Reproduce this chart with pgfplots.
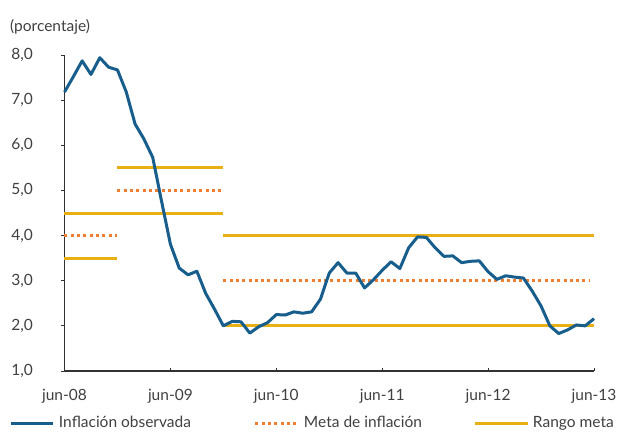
\documentclass[border=0pt]{standalone}
\usepackage{fontspec}
\setmainfont{Lato}
\usepackage{pgfplots}
\pgfplotsset{compat=1.18}
\definecolor{cblue}{RGB}{24,94,140}
\definecolor{corange}{RGB}{240,126,48}
\definecolor{cgold}{RGB}{232,176,20}
\definecolor{tgray}{RGB}{64,64,64}
\definecolor{agray}{RGB}{50,50,50}
\pgfplotsset{
  leg42/.style={legend image code/.code={\draw[##1] (0pt,0pt) -- (42pt,0pt);}},
  leg53/.style={legend image code/.code={\draw[##1] (0pt,0pt) -- (53pt,0pt);}},
}
\pgfplotstableread{
m v
0 7.18
1 7.52
2 7.87
3 7.57
4 7.94
5 7.73
6 7.67
7 7.18
8 6.47
9 6.14
10 5.73
11 4.76
12 3.81
13 3.28
14 3.13
15 3.21
16 2.72
17 2.37
18 2.00
19 2.10
20 2.09
21 1.84
22 1.98
23 2.07
24 2.25
25 2.24
26 2.31
27 2.28
28 2.31
29 2.59
30 3.17
31 3.40
32 3.17
33 3.17
34 2.84
35 3.02
36 3.23
37 3.42
38 3.27
39 3.73
40 3.97
41 3.96
42 3.73
43 3.54
44 3.55
45 3.40
46 3.43
47 3.44
48 3.20
49 3.03
50 3.11
51 3.08
52 3.06
53 2.77
54 2.44
55 2.00
56 1.83
57 1.91
58 2.02
59 2.00
60 2.16
}\infl
\begin{document}
\fontsize{15.5}{18}\selectfont
\begin{tikzpicture}[text=tgray]
\useasboundingbox (-64.5pt,-60pt) rectangle (552.5pt,371pt);
\begin{axis}[
  at={(0pt,0pt)}, anchor=south west,
  scale only axis, width=529.5pt, height=316pt,
  xmin=0, xmax=60, ymin=1, ymax=8,
  clip=false,
  axis lines=left,
  axis line style={agray, line width=1.1pt, -},
  tick style={agray, line width=1pt},
  tick align=outside,
  major tick length=3.5pt,
  xtick style={yshift=3.5pt},
  xtick={0,12,24,36,48,60},
  xticklabels={jun-08,jun-09,jun-10,jun-11,jun-12,jun-13},
  ytick={1,2,3,4,5,6,7,8},
  minor tick num=0,
  /pgf/number format/.cd, use comma, fixed, fixed zerofill, precision=1, assume math mode=true,
  /pgfplots/.cd,
  yticklabel style={inner sep=0pt, anchor=east, xshift=-28pt},
  xticklabel style={inner sep=0pt, anchor=north, yshift=-14pt},
  legend columns=3,
  legend cell align=left,
  legend style={at={(-0.10293,-0.16456)}, anchor=west, draw=none, fill=none,
    inner sep=0pt, outer sep=0pt, column sep=0pt, nodes={inner sep=0pt}},
]
% ranges
\addplot[cgold, line width=3pt, forget plot] coordinates {(0,3.5) (6,3.5)};
\addplot[cgold, line width=3pt, forget plot] coordinates {(0,4.5) (18,4.5)};
\addplot[cgold, line width=3pt, forget plot] coordinates {(6,5.5) (18,5.5)};
\addplot[cgold, line width=3pt, forget plot] coordinates {(18,2) (60,2)};
\addplot[cgold, line width=3pt, forget plot] coordinates {(18,4) (60,4)};
% targets
\addplot[corange, line width=3pt, dash pattern=on 3pt off 3.3pt, forget plot] coordinates {(0,4) (6,4)};
\addplot[corange, line width=3pt, dash pattern=on 3pt off 3.3pt, forget plot] coordinates {(6,5) (18,5)};
\addplot[corange, line width=3pt, dash pattern=on 3pt off 3.3pt, forget plot] coordinates {(18,3) (59.6,3)};
% observed
\addplot[cblue, line width=3pt, line join=round, forget plot] table[x=m, y=v] {\infl};
% legend
\addlegendimage{cblue, line width=3pt, leg42}
\addlegendentry{\makebox[199pt][l]{\hspace{4pt}Inflación observada}}
\addlegendimage{corange, line width=3pt, dash pattern=on 3pt off 3.3pt, leg42}
\addlegendentry{\makebox[175pt][l]{\hspace{5pt}Meta de inflación}}
\addlegendimage{cgold, line width=3pt, leg53}
\addlegendentry{\hspace{3pt}Rango meta}
\end{axis}
\node[anchor=west, inner sep=0pt] at (-54.5pt,344.5pt) {(porcentaje)};
\end{tikzpicture}
\end{document}
